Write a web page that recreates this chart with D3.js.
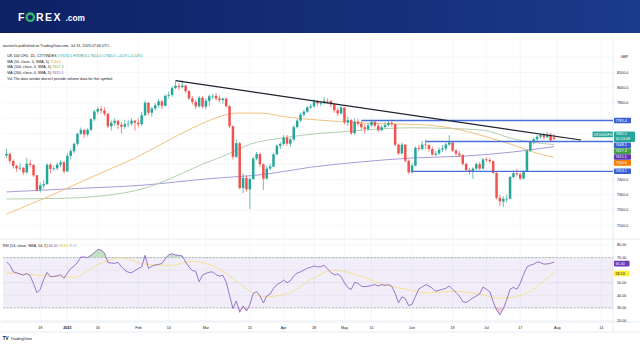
<!DOCTYPE html>
<html><head><meta charset="utf-8">
<script src="https://cdn.jsdelivr.net/npm/d3@7"></script>
<style>html,body{margin:0;padding:0;background:#fff;overflow:hidden}svg{display:block;font-family:"Liberation Sans",Arial,sans-serif}</style>
</head><body><svg id="c" width="640" height="360"></svg>
<script>
// ---------------- DATA ----------------
const opens=[7556,7567,7521,7489,7472,7476,7446,7503,7495,7427,
7332,7361,7370,7497,7469,7473,7497,7512,7452,7554,
7585,7633,7699,7724,7694,7725,7794,7844,7860,7851,
7830,7747,7770,7784,7757,7745,7761,7765,7784,7771,
7761,7820,7902,7836,7864,7885,7911,7882,7947,7953,
7998,8012,8004,8014,7978,7930,7907,7878,7935,7876,
7914,7944,7947,7929,7919,7929,7879,7748,7548,7637,
7344,7410,7335,7403,7536,7566,7499,7405,7471,7484,
7564,7620,7632,7673,7634,7662,7742,7785,7824,7843,
7871,7879,7909,7898,7899,7914,7912,7891,7853,7831,
7870,7773,7788,7702,7778,7764,7741,7730,7754,7777,
7751,7722,7742,7756,7770,7762,7627,7570,7627,7522,
7446,7490,7607,7600,7628,7624,7599,7562,7570,7594,
7602,7628,7642,7588,7569,7559,7502,7461,7453,7471,
7500,7471,7531,7527,7519,7442,7280,7256,7273,7274,
7416,7441,7434,7406,7453,7588,7646,7663,7679,7691,
7676,7693,7674.5];
const highs=[7600,7575,7530,7495,7505,7480,7540,7530,7500,7430,
7380,7395,7505,7505,7490,7510,7525,7520,7570,7600,
7640,7705,7740,7730,7735,7800,7855,7875,7880,7870,
7835,7785,7800,7790,7775,7790,7790,7800,7790,7800,
7840,7915,7905,7875,7900,7925,7920,7955,7975,8010,
8040,8030,8048,8020,7985,7945,7920,7945,7945,7930,
7955,7960,7965,7950,7935,7935,7885,7755,7660,7645,
7440,7425,7415,7550,7580,7575,7505,7490,7505,7575,
7630,7645,7690,7690,7670,7755,7795,7835,7855,7880,
7895,7925,7920,7915,7940,7930,7920,7895,7870,7880,
7872,7810,7795,7800,7795,7780,7760,7770,7790,7785,
7765,7755,7775,7785,7785,7765,7635,7640,7630,7530,
7505,7615,7625,7650,7660,7630,7615,7585,7610,7625,
7640,7690,7645,7600,7585,7565,7510,7475,7480,7510,
7515,7540,7545,7540,7525,7450,7300,7290,7300,7425,
7460,7470,7445,7460,7595,7655,7675,7690,7700,7705,
7710,7705,7698.6];
const lows=[7540,7505,7470,7450,7460,7430,7440,7480,7415,7320,
7315,7340,7365,7440,7455,7460,7480,7440,7450,7530,
7570,7620,7690,7670,7680,7715,7780,7830,7830,7815,
7735,7720,7750,7730,7700,7730,7740,7750,7720,7740,
7750,7815,7820,7810,7850,7870,7860,7880,7930,7940,
7990,7985,7995,7965,7920,7890,7860,7870,7865,7860,
7880,7925,7915,7905,7895,7870,7735,7530,7540,7335,
7310,7320,7206,7395,7525,7480,7330,7400,7460,7480,
7560,7600,7620,7620,7615,7650,7735,7775,7810,7835,
7860,7870,7880,7880,7890,7895,7870,7835,7815,7825,
7760,7750,7690,7695,7750,7725,7700,7720,7745,7740,
7710,7715,7735,7745,7745,7615,7560,7565,7510,7435,
7440,7485,7585,7590,7600,7580,7555,7550,7560,7580,
7585,7620,7580,7555,7545,7490,7450,7430,7405,7460,
7460,7465,7515,7505,7435,7270,7225,7220,7250,7270,
7405,7420,7395,7400,7450,7580,7630,7650,7665,7660,
7670,7650,7654.0];
const closes=[7567,7521,7489,7472,7476,7446,7503,7495,7427,7332,
7361,7370,7497,7469,7473,7497,7512,7452,7554,7585,
7633,7699,7724,7694,7725,7794,7844,7860,7851,7830,
7747,7770,7784,7757,7745,7761,7765,7784,7771,7761,
7820,7902,7836,7864,7885,7911,7882,7947,7953,7998,
8012,8004,8014,7978,7930,7907,7878,7935,7876,7914,
7944,7947,7929,7919,7929,7879,7748,7548,7637,7344,
7410,7335,7403,7536,7566,7499,7405,7471,7484,7564,
7620,7632,7673,7634,7662,7742,7785,7824,7843,7871,
7879,7909,7898,7899,7914,7912,7891,7853,7831,7870,
7773,7788,7702,7778,7764,7741,7730,7754,7777,7751,
7722,7742,7756,7770,7762,7627,7570,7627,7522,7446,
7490,7607,7600,7628,7624,7599,7562,7570,7594,7602,
7628,7642,7588,7569,7559,7502,7461,7453,7471,7500,
7471,7531,7527,7519,7442,7280,7256,7273,7274,7416,
7441,7434,7406,7453,7588,7646,7663,7679,7691,7676,
7693,7654.6,7665.5];
const rsi=[66.5,64.1,58.7,57.9,56.9,56.1,57.4,55.5,49.3,42.1,
44.8,52.6,58.2,54.7,55,55.5,56.3,53.5,57.7,61.3,
63.2,66.2,70.5,70.5,70,71.8,74,76.5,76,73.6,
66.2,65.6,65.4,66.2,62.8,60,58.4,57.9,59.7,61.3,
62.6,71.8,61.3,63.2,64.1,64.6,65.3,69.2,72.3,73.1,
72.1,71.8,71.3,66.5,62.6,59.7,59,50.8,56.1,57.4,
58.4,58.6,56.5,55.3,56,50.5,40,29.5,35.5,26.5,
31.5,27.5,32.5,41.5,43,39.5,34,39.5,41,45.5,
48.5,50,52.1,50,51.5,55.5,57.7,58.7,60,61.6,
62.2,63.4,62.6,62.8,63.8,60.8,58.2,56.3,56.9,55,
50,46.1,44.6,50.3,49.5,47.2,46.9,47.2,47.9,48.5,
47.4,48.5,47.9,48.5,47.2,41.6,34,38.8,37.5,31.8,
32.9,39,45.1,46.6,48.5,47.4,45.6,43.2,44,44.8,
45.6,47.4,44.8,42.2,39.5,35,34.3,36.1,37.9,39.5,
41.1,46.6,44.8,42.9,35,28.5,24.6,29.3,36.4,44.8,
46.3,44.8,49.5,56.6,62.6,63.9,64.8,66.5,66,64.8,
65,65.5,66.4];
const rsiMaIdx=[0,13,20,27,34,41,48,55,62,69,76,83,90,97,104,111,118,125,132,139,146,153,158,162];
const rsiMaVal=[58,55.3,54.3,64.4,69.7,64.8,63.7,66.9,62.4,49.3,38.8,41.2,52.4,60.1,55.8,49,44.9,41.9,43.3,41.4,37.7,40.8,48.9,58.53];
const ma50Idx=[0,10,22,30,38,47,55,62,68,75,83,92,100,110,120,128,136,143,150,156,162];
const ma50Val=[7174,7265,7383,7462,7540,7645,7736,7802,7834,7834,7808,7789,7776,7765,7760,7748,7715,7672,7625,7578,7544.6];
const ma100Idx=[0,15,27,42,52,58,65,72,82,92,101,110,120,130,141,150,162];
const ma100Val=[7272,7276,7290,7350,7440,7500,7560,7630,7672,7700,7714,7730,7738,7734,7722,7665,7627.3];
const ma200Idx=[0,20,40,60,77,90,105,120,135,150,162];
const ma200Val=[7318,7340,7362,7405,7435,7480,7515,7540,7552,7580,7615.1];
const trendIdx=[50,170];
const trendVal=[8046,7658];
const levelVal=[7785.4,7648.1,7453.1];
const levelStart=[105,124,120];
const xTickIdx=[10,18,27,39,48,59,72,82,91,100,108,120,132,142,152,163,176];
const xTickLab=["19","2023","16","Feb","14","Mar","20","Apr","18","May","15","Jun","19","Jul","17","Aug","14"];
const priceTicks=[8200,8100,8000,7900,7800,7700,7600,7500,7400,7300,7200,7100];
const rsiTicks=[80,70,60,50,40,30,20];

// ---------------- SETUP ----------------
const W=640,H=360, L=3, R=613, PT=38, PB=239, RB=322;
const UP="#26a69a", DN="#ef5350";
const svg=d3.select("#c");
const defs=svg.append("defs");
const gr=defs.append("linearGradient").attr("id","hdr").attr("x1",0).attr("x2",1).attr("y1",0).attr("y2",0);
gr.append("stop").attr("offset",0).attr("stop-color","#0d2164");
gr.append("stop").attr("offset",1).attr("stop-color","#1b3a8a");
defs.append("clipPath").attr("id","pclip").append("rect").attr("x",L).attr("y",PT).attr("width",R-L).attr("height",PB-PT);

const x=d3.scaleLinear().domain([0,162]).range([6.5,554]);
const yP=d3.scaleLinear().domain([7100,8100]).range([225.3,72.4]);
const yR=d3.scaleLinear().domain([20,80]).range([320.5,245]);

// header
svg.append("rect").attr("width",W).attr("height",33).attr("fill","url(#hdr)");
const logo=svg.append("g").attr("fill","#fff").attr("font-weight","bold");
logo.append("text").attr("x",18).attr("y",21).attr("font-size",10.5).text("F");
logo.append("circle").attr("cx",30.3).attr("cy",17.2).attr("r",3.7).attr("fill","none").attr("stroke","#33b86b").attr("stroke-width",2.3);
logo.append("text").attr("x",36).attr("y",21).attr("font-size",10.5).attr("letter-spacing",1.4).text("REX");
logo.append("text").attr("x",65.5).attr("y",21).attr("font-size",8.3).text(".com");

// grid
const grid=svg.append("g").attr("stroke","#eef0f5").attr("stroke-width",0.6);
grid.selectAll("line.v").data(xTickIdx).join("line")
  .attr("x1",d=>x(d)).attr("x2",d=>x(d)).attr("y1",PT).attr("y2",RB);
grid.selectAll("line.h").data(priceTicks).join("line")
  .attr("x1",L).attr("x2",R).attr("y1",d=>yP(d)).attr("y2",d=>yP(d)).attr("clip-path","url(#pclip)");
grid.selectAll("line.r").data(rsiTicks).join("line")
  .attr("x1",L).attr("x2",R).attr("y1",d=>yR(d)).attr("y2",d=>yR(d));

// frame lines
const fr=svg.append("g").attr("stroke","#e0e3eb").attr("stroke-width",0.7);
fr.append("line").attr("x1",0).attr("x2",W).attr("y1",PB).attr("y2",PB);
fr.append("line").attr("x1",R).attr("x2",R).attr("y1",PT).attr("y2",333);
fr.append("line").attr("x1",0).attr("x2",W).attr("y1",RB).attr("y2",RB);
fr.append("line").attr("x1",0).attr("x2",W).attr("y1",332).attr("y2",332);

// MAs
const pc=svg.append("g").attr("clip-path","url(#pclip)");
function maLine(idx,val,col,w){
  const pts=idx.map((d,i)=>[x(d),yP(val[i])]);
  pc.append("path").attr("d",d3.line().curve(d3.curveMonotoneX)(pts)).attr("fill","none").attr("stroke",col).attr("stroke-width",w);
}
maLine(ma200Idx,ma200Val,"#9d91d2",0.9);
maLine(ma100Idx,ma100Val,"#a9c9a4",0.9);
maLine(ma50Idx,ma50Val,"#f0bf78",0.95);

// candles
const candles=closes.map((c,i)=>({i,o:opens[i],h:highs[i],l:lows[i],c}));
pc.selectAll("line.wick").data(candles).join("line")
  .attr("x1",d=>x(d.i)).attr("x2",d=>x(d.i)).attr("y1",d=>yP(d.h)).attr("y2",d=>yP(d.l))
  .attr("stroke",d=>d.c>=d.o?UP:DN).attr("stroke-width",0.7);
pc.selectAll("rect.body").data(candles).join("rect")
  .attr("x",d=>x(d.i)-1.25).attr("width",2.5)
  .attr("y",d=>yP(Math.max(d.o,d.c))).attr("height",d=>Math.max(0.7,Math.abs(yP(d.o)-yP(d.c))))
  .attr("fill",d=>d.c>=d.o?UP:DN);

// drawings
levelVal.forEach((v,k)=>{
  pc.append("line").attr("x1",x(levelStart[k])).attr("x2",R).attr("y1",yP(v)).attr("y2",yP(v))
    .attr("stroke","#4a6fd8").attr("stroke-width",1.3);
});
pc.append("line").attr("x1",x(trendIdx[0])).attr("y1",yP(trendVal[0])).attr("x2",x(trendIdx[1])).attr("y2",yP(trendVal[1]))
  .attr("stroke","#1e222d").attr("stroke-width",1.2);

// RSI panel
const rg=svg.append("g");
rg.append("rect").attr("x",L).attr("width",R-L).attr("y",yR(70)).attr("height",yR(30)-yR(70)).attr("fill","rgba(126,87,194,0.1)");
[70,30].forEach(v=>rg.append("line").attr("x1",L).attr("x2",R).attr("y1",yR(v)).attr("y2",yR(v))
  .attr("stroke","#9598a1").attr("stroke-width",0.6).attr("stroke-dasharray","2,1.5"));
rg.append("line").attr("x1",L).attr("x2",R).attr("y1",yR(50)).attr("y2",yR(50))
  .attr("stroke","#c3c5cc").attr("stroke-width",0.5).attr("stroke-dasharray","1,1.5");
defs.append("clipPath").attr("id","ob").append("rect").attr("x",L).attr("y",PB).attr("width",R-L).attr("height",yR(70)-PB);
defs.append("clipPath").attr("id","os").append("rect").attr("x",L).attr("y",yR(30)).attr("width",R-L).attr("height",RB-yR(30));
rg.append("path").attr("clip-path","url(#ob)")
  .attr("d",d3.area().x((d,i)=>x(i)).y0(yR(70)).y1(d=>yR(d))(rsi)).attr("fill","rgba(76,175,80,0.35)");
rg.append("path").attr("clip-path","url(#os)")
  .attr("d",d3.area().x((d,i)=>x(i)).y0(yR(30)).y1(d=>yR(d))(rsi)).attr("fill","rgba(242,54,69,0.25)");
rg.append("path").attr("d",d3.line().curve(d3.curveMonotoneX)(rsiMaIdx.map((d,i)=>[x(d),yR(rsiMaVal[i])])))
  .attr("fill","none").attr("stroke","#f5e08a").attr("stroke-width",0.9);
rg.append("path").attr("d",d3.line().x((d,i)=>x(i)).y(d=>yR(d))(rsi))
  .attr("fill","none").attr("stroke","#7e57c2").attr("stroke-width",0.8);

// right-side labels
const FS=3.7;
function tag(y,h,w,fill,lines,tcol){
  const g=svg.append("g");
  g.append("rect").attr("x",614).attr("y",y-h/2).attr("width",w).attr("height",h).attr("rx",0.8).attr("fill",fill);
  lines.forEach((t,k)=>g.append("text").attr("x",615.5).attr("y",y-h/2+3.9+k*5).attr("font-size",FS).attr("fill",tcol||"#fff").text(t));
}
const stack=[
  {v:closes[162],h:10.5,w:21,fill:UP,lines:[d3.format(".1f")(closes[162]),"16:53:08"],off:-2},
  {v:levelVal[1],h:5.6,w:17,fill:"#3a5fd4",lines:[d3.format(".1f")(levelVal[1])]},
  {v:ma100Val[ma100Val.length-1],h:5.6,w:17,fill:"#43a047",lines:[d3.format(".1f")(ma100Val[ma100Val.length-1])]},
  {v:ma200Val[ma200Val.length-1],h:5.6,w:17,fill:"#5e35b1",lines:[d3.format(".1f")(ma200Val[ma200Val.length-1])]},
  {v:ma50Val[ma50Val.length-1],h:5.6,w:17,fill:"#f57c00",lines:[d3.format(".1f")(ma50Val[ma50Val.length-1])]},
  {v:levelVal[2],h:5.6,w:17,fill:"#3a5fd4",lines:[d3.format(".1f")(levelVal[2])]},
  {v:levelVal[0],h:5.6,w:17,fill:"#3a5fd4",lines:[d3.format(".1f")(levelVal[0])]}
];
stack.forEach(s=>s.y=yP(s.v)+(s.off||0));
const sorted=stack.slice().sort((a,b)=>a.y-b.y);
for(let k=1;k<sorted.length;k++){
  const p=sorted[k-1], c=sorted[k];
  const minY=p.y+p.h/2+c.h/2+0.3;
  if(c.y<minY) c.y=minY;
}
const used=[];
stack.forEach(s=>{tag(s.y,s.h,s.w,s.fill,s.lines);used.push([s.y-s.h/2,s.y+s.h/2]);});
svg.append("rect").attr("x",592.5).attr("y",stack[0].y-5.25).attr("width",20.5).attr("height",5.6).attr("rx",0.8).attr("fill",UP);
svg.append("text").attr("x",593.6).attr("y",stack[0].y-1.3).attr("font-size",FS).attr("fill","#fff").text("UK100GFD");

// price axis labels
svg.append("text").attr("x",620.5).attr("y",57.5).attr("font-size",FS).attr("fill","#131722").text("GBP");
priceTicks.filter(v=>v<=8100).forEach(v=>{
  const y=yP(v);
  if(used.some(u=>y>u[0]-2.2&&y<u[1]+2.2)) return;
  svg.append("text").attr("x",617).attr("y",y+1.3).attr("font-size",FS).attr("fill","#131722").text(d3.format(".1f")(v));
});
// rsi labels
const rsiLast=rsi[rsi.length-1], rsiMaLast=rsiMaVal[rsiMaVal.length-1];
const rl=[{v:rsiLast,fill:"#673ab7",col:"#fff"},{v:rsiMaLast,fill:"#ffeb3b",col:"#131722"}];
rl.forEach(s=>s.y=yR(s.v)+1.5);
if(rl[1].y-rl[0].y<6) rl[1].y=rl[0].y+6.5;
const usedR=rl.map(s=>[s.y-2.8,s.y+2.8]);
rl.forEach(s=>tag(s.y,5.6,15.5,s.fill,[d3.format(".2f")(s.v)],s.col));
rsiTicks.forEach(v=>{
  const y=yR(v);
  if(usedR.some(u=>y>u[0]-1&&y<u[1]+1)) return;
  svg.append("text").attr("x",617).attr("y",y+1.3).attr("font-size",FS).attr("fill","#131722").text(d3.format(".2f")(v));
});

// x-axis labels
svg.selectAll("text.xt").data(xTickIdx).join("text")
  .attr("x",d=>x(d)).attr("y",328.5).attr("text-anchor","middle").attr("font-size",FS)
  .attr("font-weight",(d,i)=>xTickLab[i]==="2023"?"bold":"normal").attr("fill","#131722")
  .text((d,i)=>xTickLab[i]);

// legends
const lg=svg.append("g").attr("font-size",FS).attr("fill","#131722");
lg.append("text").attr("x",2.7).attr("y",47).text("warrieclo published on TradingView.com, Jul 31, 2023 07:06 UTC");
const t2=lg.append("text").attr("x",7.3).attr("y",56.6);
t2.append("tspan").text("UK 100 CFD, 1D, CITYINDEX  ");
t2.append("tspan").attr("fill",UP).text("O7674.5 H7698.6 L7654.0 C7665.5 +10.9 (+0.14%)");
const maL=[["MA (50, close, 0, SMA, 5)  ",ma50Val,"#f0a030"],["MA (100, close, 0, SMA, 5)  ",ma100Val,"#6ab04c"],["MA (200, close, 0, SMA, 5)  ",ma200Val,"#7e57c2"]];
maL.forEach((m,k)=>{
  const t=lg.append("text").attr("x",7.3).attr("y",62.6+k*5.8);
  t.append("tspan").text(m[0]);
  t.append("tspan").attr("fill",m[2]).text(d3.format(".1f")(m[1][m[1].length-1]));
});
lg.append("text").attr("x",7.3).attr("y",80).text("Vol  The data vendor doesn't provide volume data for this symbol.");
const t3=lg.append("text").attr("x",2.7).attr("y",247);
t3.append("tspan").text("RSI (14, close, SMA, 14, 2)  ");
t3.append("tspan").attr("fill","#7e57c2").text(d3.format(".2f")(rsiLast)+"  ");
t3.append("tspan").attr("fill","#e6c200").text(d3.format(".2f")(rsiMaLast)+"  ");
t3.append("tspan").attr("fill","#9598a1").text("∅  ∅");

// TradingView footer
const tv=svg.append("g");
tv.append("text").attr("x",2.8).attr("y",339.8).attr("font-size",4.6).attr("font-weight","bold").attr("fill","#131722").text("TV");
tv.append("text").attr("x",10.5).attr("y",339.6).attr("font-size",3.9).attr("fill","#131722").text("TradingView");
</script></body></html>
